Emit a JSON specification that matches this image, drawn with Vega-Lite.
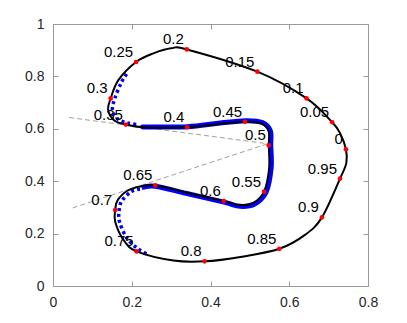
{
  "$schema": "https://vega.github.io/schema/vega-lite/v6.json",
  "width": 315,
  "height": 262,
  "autosize": {"type": "none"},
  "padding": {"left": 53, "top": 24, "right": 39, "bottom": 37},
  "background": "white",
  "config": {
    "view": {"stroke": null},
    "font": "Liberation Sans",
    "axis": {
      "grid": false,
      "domainColor": "#999999",
      "tickColor": "#999999",
      "tickSize": -5,
      "labelPadding": 14,
      "labelFont": "Liberation Sans",
      "labelFontSize": 14,
      "labelColor": "#262626",
      "labelFlush": false,
      "labelOverlap": false,
      "format": "~g",
      "title": null
    }
  },
  "datasets": {
    "curve": [
      {"t": 0, "x": 0.744, "y": 0.522},
      {"t": 1, "x": 0.729, "y": 0.583},
      {"t": 2, "x": 0.709, "y": 0.625},
      {"t": 3, "x": 0.644, "y": 0.716},
      {"t": 4, "x": 0.519, "y": 0.818},
      {"t": 5, "x": 0.340, "y": 0.903},
      {"t": 6, "x": 0.300, "y": 0.907},
      {"t": 7, "x": 0.255, "y": 0.888},
      {"t": 8, "x": 0.211, "y": 0.855},
      {"t": 9, "x": 0.166, "y": 0.786},
      {"t": 10, "x": 0.1465, "y": 0.716},
      {"t": 11, "x": 0.140, "y": 0.672},
      {"t": 12, "x": 0.155, "y": 0.633},
      {"t": 13, "x": 0.185, "y": 0.616},
      {"t": 14, "x": 0.238, "y": 0.605},
      {"t": 15, "x": 0.341, "y": 0.606},
      {"t": 16, "x": 0.420, "y": 0.618},
      {"t": 17, "x": 0.488, "y": 0.627},
      {"t": 18, "x": 0.530, "y": 0.620},
      {"t": 19, "x": 0.548, "y": 0.590},
      {"t": 20, "x": 0.548, "y": 0.537},
      {"t": 21, "x": 0.549, "y": 0.450},
      {"t": 22, "x": 0.536, "y": 0.360},
      {"t": 23, "x": 0.510, "y": 0.318},
      {"t": 24, "x": 0.475, "y": 0.309},
      {"t": 25, "x": 0.434, "y": 0.324},
      {"t": 26, "x": 0.340, "y": 0.356},
      {"t": 27, "x": 0.260, "y": 0.384},
      {"t": 28, "x": 0.196, "y": 0.369},
      {"t": 29, "x": 0.165, "y": 0.330},
      {"t": 30, "x": 0.158, "y": 0.290},
      {"t": 31, "x": 0.158, "y": 0.245},
      {"t": 32, "x": 0.179, "y": 0.176},
      {"t": 33, "x": 0.2125, "y": 0.132},
      {"t": 34, "x": 0.306, "y": 0.097},
      {"t": 35, "x": 0.385, "y": 0.094},
      {"t": 36, "x": 0.480, "y": 0.112},
      {"t": 37, "x": 0.575, "y": 0.142},
      {"t": 38, "x": 0.640, "y": 0.195},
      {"t": 39, "x": 0.683, "y": 0.262},
      {"t": 40, "x": 0.729, "y": 0.410},
      {"t": 41, "x": 0.745, "y": 0.470}
    ],
    "blue": [
      {"t": 0, "x": 0.231, "y": 0.607},
      {"t": 1, "x": 0.238, "y": 0.607},
      {"t": 2, "x": 0.341, "y": 0.608},
      {"t": 3, "x": 0.420, "y": 0.621},
      {"t": 4, "x": 0.488, "y": 0.631},
      {"t": 5, "x": 0.532, "y": 0.624},
      {"t": 6, "x": 0.552, "y": 0.592},
      {"t": 7, "x": 0.553, "y": 0.537},
      {"t": 8, "x": 0.554, "y": 0.450},
      {"t": 9, "x": 0.541, "y": 0.358},
      {"t": 10, "x": 0.512, "y": 0.313},
      {"t": 11, "x": 0.475, "y": 0.304},
      {"t": 12, "x": 0.434, "y": 0.320},
      {"t": 13, "x": 0.340, "y": 0.353},
      {"t": 14, "x": 0.260, "y": 0.381},
      {"t": 15, "x": 0.225, "y": 0.375}
    ],
    "dotU": [
      {"t": 0, "x": 0.187, "y": 0.809},
      {"t": 1, "x": 0.173, "y": 0.775},
      {"t": 2, "x": 0.157, "y": 0.716},
      {"t": 3, "x": 0.151, "y": 0.672},
      {"t": 4, "x": 0.164, "y": 0.638},
      {"t": 5, "x": 0.190, "y": 0.622},
      {"t": 6, "x": 0.217, "y": 0.616}
    ],
    "dotL": [
      {"t": 0, "x": 0.221, "y": 0.370},
      {"t": 1, "x": 0.198, "y": 0.360},
      {"t": 2, "x": 0.175, "y": 0.325},
      {"t": 3, "x": 0.168, "y": 0.290},
      {"t": 4, "x": 0.169, "y": 0.245},
      {"t": 5, "x": 0.188, "y": 0.182},
      {"t": 6, "x": 0.216, "y": 0.142},
      {"t": 7, "x": 0.242, "y": 0.119}
    ],
    "dash": [
      {"line": "A", "t": 0, "x": 0.041, "y": 0.643},
      {"line": "A", "t": 1, "x": 0.545, "y": 0.543},
      {"line": "B", "t": 0, "x": 0.050, "y": 0.298},
      {"line": "B", "t": 1, "x": 0.545, "y": 0.543}
    ],
    "pts": [
      {"lab": "0", "x": 0.744, "y": 0.522},
      {"lab": "0.05", "x": 0.709, "y": 0.625},
      {"lab": "0.1", "x": 0.644, "y": 0.716},
      {"lab": "0.15", "x": 0.519, "y": 0.818},
      {"lab": "0.2", "x": 0.340, "y": 0.903},
      {"lab": "0.25", "x": 0.211, "y": 0.855},
      {"lab": "0.3", "x": 0.1465, "y": 0.716},
      {"lab": "0.35", "x": 0.185, "y": 0.616},
      {"lab": "0.4", "x": 0.341, "y": 0.606},
      {"lab": "0.45", "x": 0.488, "y": 0.627},
      {"lab": "0.5", "x": 0.548, "y": 0.537},
      {"lab": "0.55", "x": 0.536, "y": 0.360},
      {"lab": "0.6", "x": 0.434, "y": 0.324},
      {"lab": "0.65", "x": 0.260, "y": 0.384},
      {"lab": "0.7", "x": 0.158, "y": 0.290},
      {"lab": "0.75", "x": 0.2125, "y": 0.132},
      {"lab": "0.8", "x": 0.385, "y": 0.094},
      {"lab": "0.85", "x": 0.575, "y": 0.142},
      {"lab": "0.9", "x": 0.683, "y": 0.262},
      {"lab": "0.95", "x": 0.729, "y": 0.410}
    ]
  },
  "layer": [
    {
      "data": {"name": "dash"},
      "mark": {"type": "line", "color": "#777777", "strokeWidth": 0.7, "strokeDash": [5, 3]},
      "encoding": {
        "x": {"field": "x", "type": "quantitative", "scale": {"domain": [0, 0.8], "nice": false, "zero": false}, "axis": {"orient": "top", "values": [0, 0.2, 0.4, 0.6, 0.8], "labels": false}},
        "y": {"field": "y", "type": "quantitative", "scale": {"domain": [0, 1], "nice": false, "zero": false}, "axis": {"orient": "right", "values": [0, 0.2, 0.4, 0.6, 0.8, 1], "labels": false}},
        "detail": {"field": "line"},
        "order": {"field": "t"}
      }
    },
    {
      "data": {"name": "blue"},
      "mark": {"type": "line", "color": "#0000ff", "strokeWidth": 5, "interpolate": "cardinal"},
      "encoding": {
        "x": {"field": "x", "type": "quantitative", "scale": {"domain": [0, 0.8], "nice": false, "zero": false}, "axis": {"orient": "bottom", "values": [0, 0.2, 0.4, 0.6, 0.8]}},
        "y": {"field": "y", "type": "quantitative", "scale": {"domain": [0, 1], "nice": false, "zero": false}, "axis": {"orient": "left", "values": [0, 0.2, 0.4, 0.6, 0.8, 1]}},
        "order": {"field": "t"}
      }
    },
    {
      "data": {"name": "dotU"},
      "mark": {"type": "line", "color": "#0000ff", "strokeWidth": 3.5, "strokeDash": [3, 3], "interpolate": "cardinal"},
      "encoding": {
        "x": {"field": "x", "type": "quantitative", "axis": null},
        "y": {"field": "y", "type": "quantitative", "axis": null},
        "order": {"field": "t"}
      }
    },
    {
      "data": {"name": "dotL"},
      "mark": {"type": "line", "color": "#0000ff", "strokeWidth": 3.5, "strokeDash": [3, 3], "interpolate": "cardinal"},
      "encoding": {
        "x": {"field": "x", "type": "quantitative", "axis": null},
        "y": {"field": "y", "type": "quantitative", "axis": null},
        "order": {"field": "t"}
      }
    },
    {
      "data": {"name": "curve"},
      "mark": {"type": "line", "color": "#000000", "strokeWidth": 2, "interpolate": "cardinal-closed"},
      "encoding": {
        "x": {"field": "x", "type": "quantitative", "axis": null},
        "y": {"field": "y", "type": "quantitative", "axis": null},
        "order": {"field": "t"}
      }
    },
    {
      "data": {"name": "pts"},
      "mark": {"type": "circle", "color": "#ff0000", "size": 22, "opacity": 1},
      "encoding": {
        "x": {"field": "x", "type": "quantitative", "axis": null},
        "y": {"field": "y", "type": "quantitative", "axis": null}
      }
    },
    {
      "data": {"name": "pts"},
      "mark": {"type": "text", "align": "right", "baseline": "alphabetic", "dx": -3, "dy": -5, "fontSize": 15, "font": "Liberation Sans", "color": "#000000"},
      "encoding": {
        "x": {"field": "x", "type": "quantitative", "axis": null},
        "y": {"field": "y", "type": "quantitative", "axis": null},
        "text": {"field": "lab"}
      }
    }
  ],
  "resolve": {"axis": {"x": "independent", "y": "independent"}}
}
